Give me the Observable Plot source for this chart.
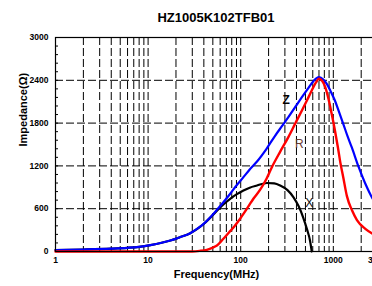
<!DOCTYPE html>
<html><head><meta charset="utf-8">
<script src="https://cdn.jsdelivr.net/npm/d3@7"></script>
<script src="https://cdn.jsdelivr.net/npm/@observablehq/plot@0.6"></script>
<style>
body{margin:0;background:#fff;font-family:"Liberation Sans",Arial,sans-serif;overflow:hidden;}
#title{height:28px;line-height:36px;padding-left:60px;width:312px;text-align:center;font-weight:bold;font-size:13px;white-space:nowrap;color:#000;}
</style></head><body>
<div id="title">HZ1005K102TFB01</div>
<div id="chart"></div>
<script>
// Tick / grid values
const xTicks = [1, 10, 100, 1000, 3000];
const xGrid = [2,3,4,5,6,7,8,9,10,20,30,40,50,60,70,80,90,100,200,300,400,500,600,700,800,900,1000,2000,3000];
const yTicks = [0, 600, 1200, 1800, 2400, 3000];
const yGrid = [600, 1200, 1800, 2400];
const yMinor = d3.range(0, 3001, 120);

// Z (blue)
const zFreq = [1,2,4,6,8,10.6,14,17.4,22,28.5,34,39.8,47,55.4,65,77,90,107,125,150,190,236,280,327,390,458,530,612,700,780,850,940,1040,1150,1280,1430,1580,1880,2200,2650,3000];
const zVal  = [20,28,40,52,66,90,122,154,200,257,320,388,480,584,690,809,925,1042,1150,1262,1440,1626,1760,1883,2030,2163,2280,2390,2444,2410,2350,2240,2117,1960,1790,1610,1462,1182,960,745,640];

// R (red)
const rFreq = [1,10,30,36,43,50,55.4,65,75,84,95,107,122,137,163,190,217,267,327,390,458,520,585,650,700,760,818,890,960,1040,1120,1190,1280,1400,1600,1800,2200,2650,3000];
const rVal  = [0,0,0,8,24,55,84,178,270,340,430,528,640,739,870,1020,1182,1400,1603,1800,1977,2120,2257,2370,2421,2390,2304,2130,1931,1700,1462,1250,1040,780,570,440,320,250,215];

// X (black)
const xFreq = [1,2,4,6,8,10.6,14,17.4,22,28.5,34,39.8,47,55.4,65,77,90,107,125,150,192,230,267,320,372,420,472,520,560,585];
const xVal  = [20,28,40,52,66,90,122,154,200,257,318,385,475,570,660,739,800,855,895,925,960,955,925,860,760,640,480,310,155,0];

// Curve labels
const labText = ["Z", "R", "X"];
const labFreq = [310, 429, 550];
const labVal  = [2117, 1500, 673];
const labColor = ["#000000", "#6b3a30", "#111111"];
const labBold = [true, false, false];

const toRows = (f, v) => f.map((d, i) => ({f: d, v: v[i]}));
const labRows = labText.map((t, i) => ({t, f: labFreq[i], v: labVal[i], c: labColor[i], b: labBold[i]}));
const font = "Liberation Sans, Arial, sans-serif";

const plot = Plot.plot({
  width: 372, height: 258,
  marginLeft: 55, marginRight: -5, marginTop: 9, marginBottom: 35,
  style: {fontFamily: font, background: "white", color: "black"},
  x: {type: "log", domain: [1, 3000]},
  y: {domain: [0, 3000]},
  marks: [
    Plot.ruleX(xGrid, {stroke: "black", strokeWidth: 1, strokeDasharray: "8,3"}),
    Plot.ruleY(yGrid, {stroke: "black", strokeWidth: 1, strokeDasharray: "8,3"}),
    Plot.axisY({ticks: yMinor, tickSize: -3, tickFormat: () => "", label: null}),
    Plot.axisY({ticks: yTicks, tickSize: 0, tickPadding: 7, tickFormat: d3.format("d"), fontWeight: "bold", fontSize: 8.5, label: null}),
    Plot.axisX({ticks: xTicks, tickSize: 0, tickPadding: 5, tickFormat: d3.format("d"), fontWeight: "bold", fontSize: 8.5, label: null}),
    Plot.line(toRows(xFreq, xVal), {x: "f", y: "v", stroke: "black", strokeWidth: 2.2, curve: "monotone-x"}),
    Plot.line(toRows(zFreq, zVal), {x: "f", y: "v", stroke: "#0000ff", strokeWidth: 2.2, curve: "monotone-x"}),
    Plot.line(toRows(rFreq, rVal), {x: "f", y: "v", stroke: "#ff0000", strokeWidth: 2.4, curve: "monotone-x"}),
    Plot.frame({stroke: "black", strokeWidth: 1.2}),
    Plot.text(labRows.filter(d => d.b), {x: "f", y: "v", text: "t", fill: "c", fontWeight: "bold", fontSize: 12}),
    Plot.text(labRows.filter(d => !d.b), {x: "f", y: "v", text: "t", fill: "c", fontSize: 12}),
    Plot.text(["Frequency(MHz)"], {frameAnchor: "bottom", dy: 26, fontSize: 11, fontWeight: "bold"}),
    Plot.text(["Impedance(Ω)"], {frameAnchor: "left", rotate: -90, dx: -32, dy: 2, fontSize: 11, fontWeight: "bold"})
  ]
});
document.getElementById("chart").appendChild(plot);
</script></body></html>
